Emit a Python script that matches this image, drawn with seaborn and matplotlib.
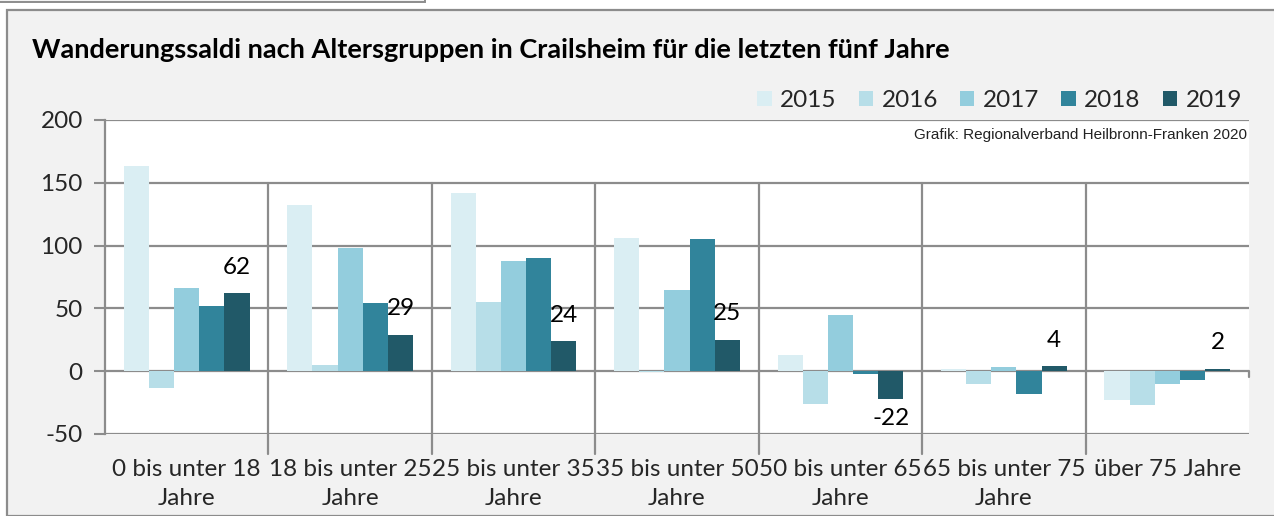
import matplotlib
matplotlib.use("Agg")
import matplotlib.pyplot as plt
import seaborn as sns
import pandas as pd
import numpy as np
from matplotlib.patches import Rectangle

categories = ["0 bis unter 18\nJahre", "18 bis unter 25\nJahre", "25 bis unter 35\nJahre",
              "35 bis unter 50\nJahre", "50 bis unter 65\nJahre", "65 bis unter 75\nJahre",
              "über 75 Jahre"]
years = ["2015", "2016", "2017", "2018", "2019"]
v2015 = [163, 132, 142, 106, 13, 2, -23]
v2016 = [-13, 5, 55, -1, -26, -10, -27]
v2017 = [66, 98, 88, 65, 45, 3, -10]
v2018 = [52, 54, 90, 105, -2, -18, -7]
v2019 = [62, 29, 24, 25, -22, 4, 2]
colors = ["#DAEEF3", "#B7DEE8", "#93CDDD", "#31849B", "#215968"]
yticks = [-50, 0, 50, 100, 150, 200]

rows = []
for yr, vals in zip(years, [v2015, v2016, v2017, v2018, v2019]):
    for c, v in zip(categories, vals):
        rows.append({"cat": c, "year": yr, "val": v})
df = pd.DataFrame(rows)

sns.set_theme(style="white")
plt.rcParams["font.family"] = ["Lato", "DejaVu Sans"]

W, H = 1274, 516
fig = plt.figure(figsize=(W / 100, H / 100), dpi=100)
fig.patch.set_facecolor("white")

# outer frame
fig.patches.append(Rectangle((7 / W, 0), 1.2, 1 - 10 / H, transform=fig.transFigure,
                             facecolor="#F2F2F2", edgecolor="#8C8C8C", linewidth=1.6, zorder=-10))
fig.patches.append(Rectangle((-0.01, 1 - 2 / H), 438 / W, 0.05, transform=fig.transFigure,
                             facecolor="#F2F2F2", edgecolor="#8C8C8C", linewidth=1.4, zorder=-10))

ax = fig.add_axes([105 / W, 1 - 434 / H, (1249 - 105) / W, (434 - 120) / H])
ax.set_facecolor("white")

sns.barplot(data=df, x="cat", y="val", hue="year", palette=colors, width=0.77,
            saturation=1, ax=ax, legend=True, edgecolor="none", linewidth=0, zorder=3)

ax.set_ylim(-50, 200)
ax.set_xlim(-0.5, len(categories) - 0.5)
ax.set_yticks(yticks)
ax.set_yticklabels([str(t) for t in yticks], fontsize=17.5)
ax.set_xticks(range(len(categories)))
ax.set_xticklabels(categories, fontsize=17.5, linespacing=1.45)
ax.tick_params(axis="x", length=0, pad=18)
ax.tick_params(axis="y", length=8, width=1.5, color="#8C8C8C", pad=8, direction="out", left=True)
ax.set_xlabel("")
ax.set_ylabel("")

for s in ["top", "right", "bottom"]:
    ax.spines[s].set_visible(False)
ax.spines["left"].set_color("#8C8C8C")
ax.spines["left"].set_linewidth(1.6)

for t in yticks:
    ax.axhline(t, color="#8C8C8C", linewidth=1.6, zorder=1)

# category separators
ymin_sep = -50 - 20 / 1.256
for i in range(len(categories) - 1):
    ax.plot([i + 0.5, i + 0.5], [ymin_sep, 150], color="#8C8C8C", linewidth=1.6,
            clip_on=False, zorder=1)
ax.plot([len(categories) - 0.5] * 2, [0, -5], color="#8C8C8C", linewidth=1.6, clip_on=False, zorder=1)

# data labels for 2019
cont = ax.containers[-1]
for bar, v in zip(cont, v2019):
    x = bar.get_x() + bar.get_width() / 2
    off = 26 if v >= 0 else -20
    ax.annotate(str(v), (x, v), xytext=(0, off), textcoords="offset pixels",
                ha="center", va="center", fontsize=17.5, color="black", zorder=5)

leg = ax.legend(loc="lower right", bbox_to_anchor=(1242 / W, 1 - 111 / H),
                bbox_transform=fig.transFigure, ncol=5, frameon=False, fontsize=17.5,
                handlelength=0.6, handleheight=0.6, handletextpad=0.35, columnspacing=0.9,
                borderaxespad=0, borderpad=0)

ax.text(0.9985, 0.953, "Grafik: Regionalverband Heilbronn-Franken 2020", transform=ax.transAxes,
        ha="right", va="center", fontsize=11, family="Liberation Sans", color="#222222")

fig.text(32 / W, 1 - 50 / H, "Wanderungssaldi nach Altersgruppen in Crailsheim für die letzten fünf Jahre",
         ha="left", va="center", fontsize=19.5, fontweight="bold", color="black")

fig.savefig("out.png", dpi=100)
